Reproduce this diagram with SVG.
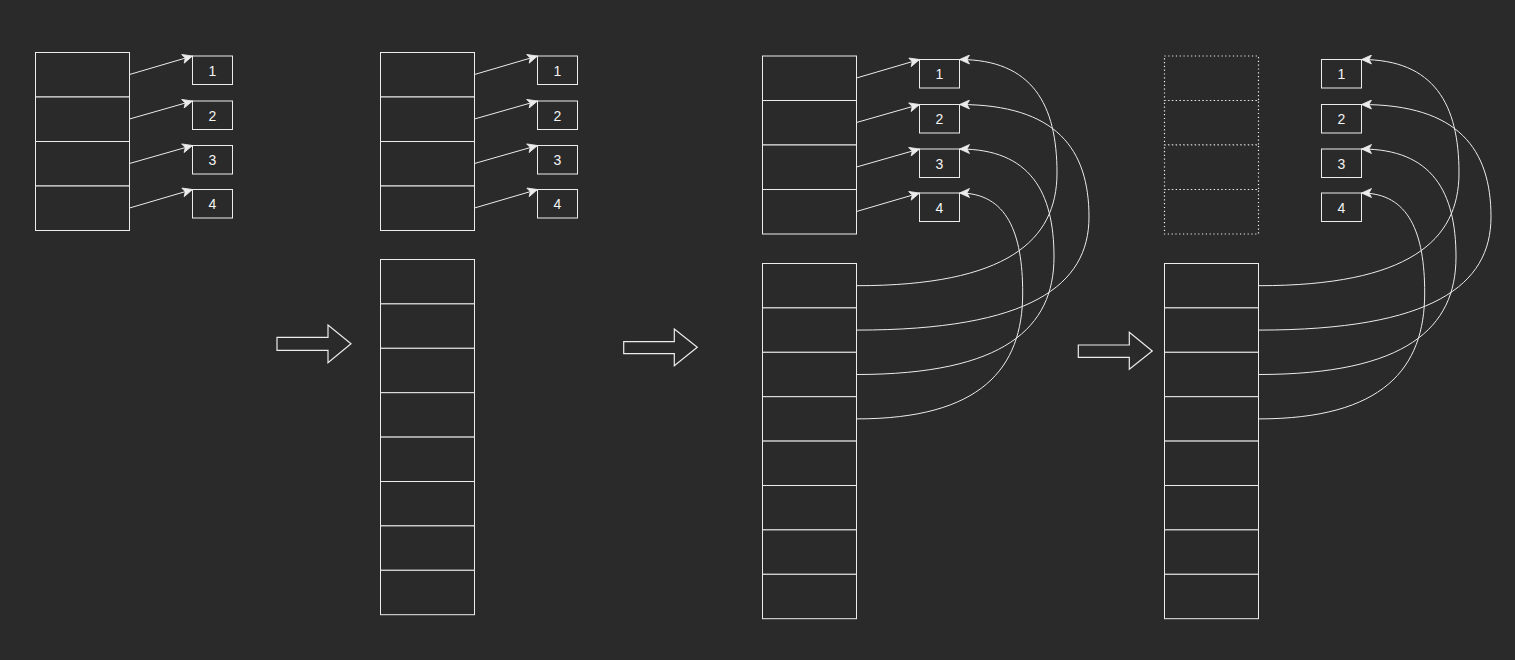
<svg xmlns="http://www.w3.org/2000/svg" width="1515" height="660" viewBox="0 0 1515 660">
<defs>
<style>
.c{fill:#2a2a2a;stroke:#ececec;stroke-width:1}
.d{fill:#2a2a2a;stroke:#f0f0f0;stroke-width:1.2;stroke-dasharray:1.2 2.6}
.b{fill:#2a2a2a;stroke:#ececec;stroke-width:1}
.t{font-family:"Liberation Sans",Arial,sans-serif;font-size:14px;fill:#f4f4f4;text-anchor:middle;dominant-baseline:central}
.e{fill:none;stroke:#ececec;stroke-width:1;marker-end:url(#ah)}
.big{fill:#2a2a2a;stroke:#ececec;stroke-width:1.2}
</style>
<marker id="ah" viewBox="-11 -5 12 10" refX="0" refY="0" markerWidth="12" markerHeight="10" markerUnits="userSpaceOnUse" orient="auto">
<path d="M-10,-4.5 L0,0 L-10,4.5 L-7.5,0 Z" fill="#ececec" stroke="#ececec" stroke-width="0.8" stroke-linejoin="miter"/>
</marker>
</defs>
<rect width="1515" height="660" fill="#2a2a2a"/>

<!-- Panel 1 -->
<g id="p1-stack">
<rect class="c" x="35.5" y="52.5" width="94" height="44.5"/>
<rect class="c" x="35.5" y="97" width="94" height="44.5"/>
<rect class="c" x="35.5" y="141.5" width="94" height="44.5"/>
<rect class="c" x="35.5" y="186" width="94" height="44.5"/>
</g>
<g id="p1-box1"><rect class="b" x="192.5" y="56" width="40" height="28.5"/><text class="t" x="212.5" y="70.5">1</text></g>
<g id="p1-box2"><rect class="b" x="192.5" y="101" width="40" height="28.5"/><text class="t" x="212.5" y="115.5">2</text></g>
<g id="p1-box3"><rect class="b" x="192.5" y="145.5" width="40" height="28.5"/><text class="t" x="212.5" y="160">3</text></g>
<g id="p1-box4"><rect class="b" x="192.5" y="189.5" width="40" height="28.5"/><text class="t" x="212.5" y="204">4</text></g>

<!-- Panel 2 -->
<g id="p2-stack">
<rect class="c" x="380.5" y="52.5" width="94" height="44.5"/>
<rect class="c" x="380.5" y="97" width="94" height="44.5"/>
<rect class="c" x="380.5" y="141.5" width="94" height="44.5"/>
<rect class="c" x="380.5" y="186" width="94" height="44.5"/>
</g>
<g id="p2-box1"><rect class="b" x="537.5" y="56" width="40" height="28.5"/><text class="t" x="557.5" y="70.5">1</text></g>
<g id="p2-box2"><rect class="b" x="537.5" y="101" width="40" height="28.5"/><text class="t" x="557.5" y="115.5">2</text></g>
<g id="p2-box3"><rect class="b" x="537.5" y="145.5" width="40" height="28.5"/><text class="t" x="557.5" y="160">3</text></g>
<g id="p2-box4"><rect class="b" x="537.5" y="189.5" width="40" height="28.5"/><text class="t" x="557.5" y="204">4</text></g>
<g id="p2-big">
<rect class="c" x="380.5" y="259.5" width="94" height="44.4"/>
<rect class="c" x="380.5" y="303.9" width="94" height="44.4"/>
<rect class="c" x="380.5" y="348.3" width="94" height="44.4"/>
<rect class="c" x="380.5" y="392.7" width="94" height="44.4"/>
<rect class="c" x="380.5" y="437.1" width="94" height="44.4"/>
<rect class="c" x="380.5" y="481.5" width="94" height="44.4"/>
<rect class="c" x="380.5" y="525.9" width="94" height="44.4"/>
<rect class="c" x="380.5" y="570.3" width="94" height="44.4"/>
</g>

<!-- Panel 3 -->
<g id="p3-stack">
<rect class="c" x="762.5" y="56" width="94" height="44.5"/>
<rect class="c" x="762.5" y="100.5" width="94" height="44.5"/>
<rect class="c" x="762.5" y="145" width="94" height="44.5"/>
<rect class="c" x="762.5" y="189.5" width="94" height="44.5"/>
</g>
<g id="p3-box1"><rect class="b" x="919.5" y="59.5" width="40" height="28.5"/><text class="t" x="939.5" y="74">1</text></g>
<g id="p3-box2"><rect class="b" x="919.5" y="104.5" width="40" height="28.5"/><text class="t" x="939.5" y="119">2</text></g>
<g id="p3-box3"><rect class="b" x="919.5" y="149" width="40" height="28.5"/><text class="t" x="939.5" y="163.5">3</text></g>
<g id="p3-box4"><rect class="b" x="919.5" y="193" width="40" height="28.5"/><text class="t" x="939.5" y="207.5">4</text></g>
<g id="p3-big">
<rect class="c" x="762.5" y="263.5" width="94" height="44.4"/>
<rect class="c" x="762.5" y="307.9" width="94" height="44.4"/>
<rect class="c" x="762.5" y="352.3" width="94" height="44.4"/>
<rect class="c" x="762.5" y="396.7" width="94" height="44.4"/>
<rect class="c" x="762.5" y="441.1" width="94" height="44.4"/>
<rect class="c" x="762.5" y="485.5" width="94" height="44.4"/>
<rect class="c" x="762.5" y="529.9" width="94" height="44.4"/>
<rect class="c" x="762.5" y="574.3" width="94" height="44.4"/>
</g>

<!-- Panel 4 -->
<g id="p4-stack">
<rect class="d" x="1164.5" y="56" width="94" height="44.5"/>
<rect class="d" x="1164.5" y="100.5" width="94" height="44.5"/>
<rect class="d" x="1164.5" y="145" width="94" height="44.5"/>
<rect class="d" x="1164.5" y="189.5" width="94" height="44.5"/>
</g>
<g id="p4-box1"><rect class="b" x="1321.5" y="59.5" width="40" height="28.5"/><text class="t" x="1341.5" y="74">1</text></g>
<g id="p4-box2"><rect class="b" x="1321.5" y="104.5" width="40" height="28.5"/><text class="t" x="1341.5" y="119">2</text></g>
<g id="p4-box3"><rect class="b" x="1321.5" y="149" width="40" height="28.5"/><text class="t" x="1341.5" y="163.5">3</text></g>
<g id="p4-box4"><rect class="b" x="1321.5" y="193" width="40" height="28.5"/><text class="t" x="1341.5" y="207.5">4</text></g>
<g id="p4-big">
<rect class="c" x="1164.5" y="263.5" width="94" height="44.4"/>
<rect class="c" x="1164.5" y="307.9" width="94" height="44.4"/>
<rect class="c" x="1164.5" y="352.3" width="94" height="44.4"/>
<rect class="c" x="1164.5" y="396.7" width="94" height="44.4"/>
<rect class="c" x="1164.5" y="441.1" width="94" height="44.4"/>
<rect class="c" x="1164.5" y="485.5" width="94" height="44.4"/>
<rect class="c" x="1164.5" y="529.9" width="94" height="44.4"/>
<rect class="c" x="1164.5" y="574.3" width="94" height="44.4"/>
</g>

<!-- Step arrows -->
<g id="step1"><polygon class="big" points="277,337.3 328,337.3 328,325 351,343.8 328,362.7 328,350.3 277,350.3"/></g>
<g id="step2"><polygon class="big" points="623.7,341.7 674.3,341.7 674.3,329 697.3,347.3 674.3,365.7 674.3,353.7 623.7,353.7"/></g>
<g id="step3"><polygon class="big" points="1078.3,345 1129.3,345 1129.3,332.3 1152.3,351 1129.3,369.3 1129.3,357.3 1078.3,357.3"/></g>

<!-- Connectors -->
<g id="connectors">
<path class="e" d="M129.5,74.5 L192.5,56"/>
<path class="e" d="M129.5,119 L192.5,101"/>
<path class="e" d="M129.5,163.5 L192.5,145.5"/>
<path class="e" d="M129.5,208 L192.5,189.5"/>

<path class="e" d="M474.5,74.5 L537.5,56"/>
<path class="e" d="M474.5,119 L537.5,101"/>
<path class="e" d="M474.5,163.5 L537.5,145.5"/>
<path class="e" d="M474.5,208 L537.5,189.5"/>

<path class="e" d="M856.5,78 L919.5,59.5"/>
<path class="e" d="M856.5,122.5 L919.5,104.5"/>
<path class="e" d="M856.5,167 L919.5,149"/>
<path class="e" d="M856.5,211.5 L919.5,193"/>

<path class="e" d="M856.5,285.7 C1006.8,285.7 1057,240.6 1057,173 C1057,104.9 1032.6,59.5 959.5,59.5"/>
<path class="e" d="M856.5,330.1 C1030.8,330.1 1089,284.9 1089,217 C1089,149.5 1056.6,104.5 959.5,104.5"/>
<path class="e" d="M856.5,374.5 C1004.5,374.5 1054,327.5 1054,257 C1054,192.2 1030.4,149 959.5,149"/>
<path class="e" d="M856.5,418.9 C981,418.9 1022.7,368.5 1022.7,293 C1022.7,233 1006.9,193 959.5,193"/>

<path class="e" d="M1258.5,285.7 C1408.8,285.7 1459,240.6 1459,173 C1459,104.9 1434.6,59.5 1361.5,59.5"/>
<path class="e" d="M1258.5,330.1 C1432.8,330.1 1491,284.9 1491,217 C1491,149.5 1458.6,104.5 1361.5,104.5"/>
<path class="e" d="M1258.5,374.5 C1406.5,374.5 1456,327.5 1456,257 C1456,192.2 1432.4,149 1361.5,149"/>
<path class="e" d="M1258.5,418.9 C1383,418.9 1424.7,368.5 1424.7,293 C1424.7,233 1408.9,193 1361.5,193"/>
</g>
</svg>
